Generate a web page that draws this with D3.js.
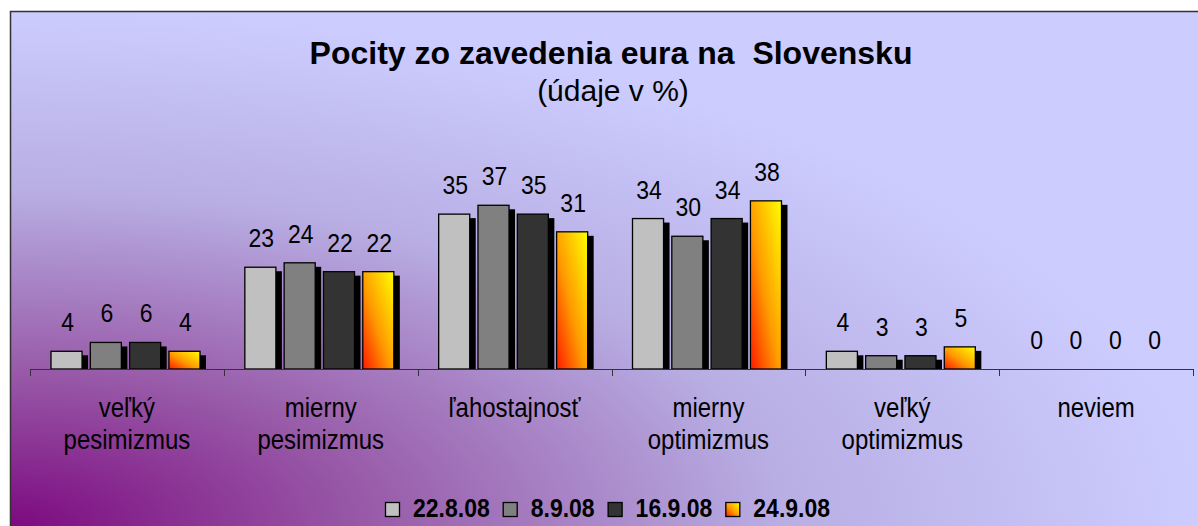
<!DOCTYPE html>
<meta charset="utf-8">
<body style="margin:0">
<svg width="1198" height="526"></svg>
<script src="https://d3js.org/d3.v7.min.js"></script>
<script>

var categories = [["veľký", "pesimizmus"], ["mierny", "pesimizmus"], ["ľahostajnosť"], ["mierny", "optimizmus"], ["veľký", "optimizmus"], ["neviem"]];
var seriesNames = ["22.8.08", "8.9.08", "16.9.08", "24.9.08"];
var s_22_8 = [4, 23, 35, 34, 4, 0];
var s_8_9 = [6, 24, 37, 30, 3, 0];
var s_16_9 = [6, 22, 35, 34, 3, 0];
var s_24_9 = [4, 22, 31, 38, 5, 0];
var allSeries = [s_22_8, s_8_9, s_16_9, s_24_9];

var fills = ["#c0c0c0", "#808080", "#333333", "url(#orange)"];
var font = "'Liberation Sans', Arial, sans-serif";
var tall = 1.12; // the text in the picture is a bit stretched vertically

function place(sel, x, y) {
	return sel.attr("transform", "translate(" + x + "," + y + ") scale(1," + tall + ")");
}

var svg = d3.select("svg");
var defs = svg.append("defs");

// background: dark purple in the lower left corner fading out
var bg = defs.append("radialGradient").attr("id", "bg")
	.attr("cx", 0).attr("cy", 1).attr("r", 1).attr("fx", 0).attr("fy", 1);
bg.append("stop").attr("offset", 0).attr("stop-color", "#7d0a80");
bg.append("stop").attr("offset", 0.3).attr("stop-color", "#985aa8");
bg.append("stop").attr("offset", 0.65).attr("stop-color", "#b8aee4");
bg.append("stop").attr("offset", 1).attr("stop-color", "#ccccff");

var og = defs.append("linearGradient").attr("id", "orange")
	.attr("x1", 0).attr("y1", 1).attr("x2", 1).attr("y2", 0);
og.append("stop").attr("offset", 0).attr("stop-color", "#ff1a00");
og.append("stop").attr("offset", 0.45).attr("stop-color", "#ff9a00");
og.append("stop").attr("offset", 1).attr("stop-color", "#ffff00");

svg.append("rect")
	.attr("x", 10).attr("y", 11)
	.attr("width", 1188).attr("height", 515)
	.attr("fill", "url(#bg)");
svg.append("path")
	.attr("d", "M10.5,526V11.5H1198")
	.attr("fill", "none")
	.attr("stroke", "#333").attr("stroke-width", 1.5);

// title
svg.append("text")
	.attr("x", 611).attr("y", 64)
	.attr("text-anchor", "middle")
	.style("font", "bold 32px " + font)
	.style("white-space", "pre")
	.text("Pocity zo zavedenia eura na  Slovensku");
svg.append("text")
	.attr("x", 613).attr("y", 101)
	.attr("text-anchor", "middle")
	.style("font", "30px " + font)
	.text("(údaje v %)");

var x0 = d3.scaleBand()
	.domain(d3.range(categories.length))
	.range([30, 1193]);

var x1 = d3.scaleBand()
	.domain(d3.range(seriesNames.length))
	.range([21, 170])
	.paddingInner(0.21);

var y = d3.scaleLinear()
	.domain([0, 40])
	.range([369, 192]);

var groups = svg.append("g").selectAll("g")
	.data(categories)
	.enter().append("g")
	.attr("transform", function(d, i) { return "translate(" + x0(i) + ",0)"; });

groups.each(function(c, ci) {
	var g = d3.select(this);
	allSeries.forEach(function(s, si) {
		var v = s[ci];
		var bx = x1(si), w = x1.bandwidth();
		if (v > 0) {
			// shadow
			g.append("rect")
				.attr("x", bx + 6).attr("y", y(v) + 4)
				.attr("width", w).attr("height", y(0) - y(v) - 4)
				.attr("fill", "#000");
			g.append("rect")
				.attr("x", bx).attr("y", y(v))
				.attr("width", w).attr("height", y(0) - y(v))
				.attr("fill", fills[si])
				.attr("stroke", "#000").attr("stroke-width", 1.3);
		}
		place(g.append("text"), bx + w / 2 + 1, y(v) - 20)
			.attr("text-anchor", "middle")
			.style("font", "23px " + font)
			.text(v);
	});
});

// category axis, ticks between categories
var axis = svg.append("g").attr("stroke", "#333").attr("stroke-width", 1);
axis.append("line")
	.attr("x1", x0.range()[0]).attr("x2", x0.range()[1])
	.attr("y1", y(0) + 0.5).attr("y2", y(0) + 0.5);
axis.selectAll(".tick")
	.data(d3.range(categories.length + 1))
	.enter().append("line")
	.attr("x1", function(i) { return Math.round(x0.range()[0] + i * x0.step()) + 0.5; })
	.attr("x2", function(i) { return Math.round(x0.range()[0] + i * x0.step()) + 0.5; })
	.attr("y1", y(0)).attr("y2", y(0) + 7);

var catLabels = svg.append("g").selectAll("text")
	.data(categories)
	.enter().append("text")
	.attr("text-anchor", "middle")
	.style("font", "24px " + font);
catLabels.each(function(lines, i) {
	var t = place(d3.select(this), x0(i) + x0.bandwidth() / 2, 417);
	lines.forEach(function(l, k) {
		t.append("tspan")
			.attr("x", 0)
			.attr("y", k * 32 / tall)
			.text(l);
	});
});

// legend
var legend = svg.append("g");
var lx = 0;
seriesNames.forEach(function(name, i) {
	legend.append("rect")
		.attr("x", lx + 0.5).attr("y", 502.5)
		.attr("width", 14).attr("height", 14)
		.attr("fill", fills[i])
		.attr("stroke", "#000").attr("stroke-width", 1.3);
	var t = place(legend.append("text"), lx + 28, 517)
		.style("font", "bold 23px " + font)
		.text(name);
	lx += 28 + t.node().getComputedTextLength() + 13;
});
var lw = lx - 13;
legend.attr("transform", "translate(" + Math.round(608 - lw / 2) + ",0)");

</script>
</body>
